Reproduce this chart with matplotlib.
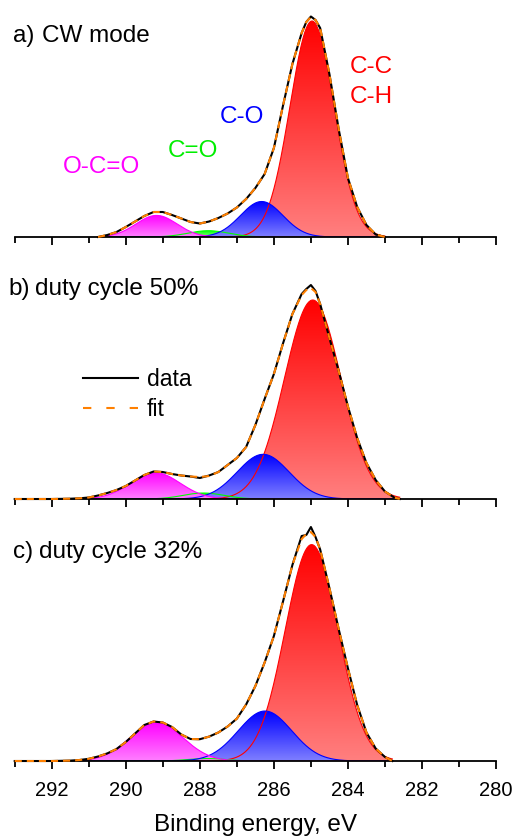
import numpy as np
import matplotlib
matplotlib.use("Agg")
import matplotlib.pyplot as plt
from matplotlib.colors import LinearSegmentedColormap, to_rgb
from matplotlib.lines import Line2D

plt.rcParams['font.family'] = ['Liberation Sans', 'DejaVu Sans']

# C 1s spectra, binding energy (eV) and intensity (a.u.)
energy_a = [290.75, 290.5, 290.25, 290.0, 289.75, 289.5, 289.25, 289.0, 288.75, 288.5,
            288.25, 288.0, 287.75, 287.5, 287.25, 287.0, 286.75, 286.5, 286.25, 286.0,
            285.75, 285.5, 285.25, 285.125, 285.0, 284.875, 284.75, 284.5, 284.25, 284.0,
            283.75, 283.5, 283.25, 283.0]
data_a = [0, 2, 5, 10, 15.5, 21, 25, 25, 22, 18.5,
          15, 13.5, 15.5, 19, 23.5, 29.5, 38, 49, 63, 89,
          132, 173, 204, 215, 220.5, 217, 209, 163, 108, 59,
          30, 12, 2.5, 0]
fit_a = [0, 2, 5, 10, 15.5, 21, 25, 25, 22, 18.5,
         15, 13.5, 15.5, 19, 23.5, 29.5, 38, 49, 63, 89,
         132, 173, 204, 215, 220, 217, 209, 163, 108, 59,
         30, 12, 2.5, 0]

energy_b = [293.0, 292.5, 292.0, 291.5, 291.25, 291.0, 290.75, 290.5, 290.25, 290.0,
            289.75, 289.5, 289.25, 289.0, 288.75, 288.5, 288.25, 288.0, 287.75, 287.5,
            287.25, 287.0, 286.75, 286.5, 286.25, 286.0, 285.75, 285.5, 285.25, 285.125,
            285.0, 284.875, 284.75, 284.5, 284.25, 284.0, 283.75, 283.5, 283.25, 283.0,
            282.75, 282.6]
data_b = [0, 0, 0, 0.3, 0.7, 1.5, 3.5, 6, 9, 13,
          18.5, 24, 27.5, 27, 25, 23.5, 22.5, 21, 23.5, 27,
          34, 41, 52, 74, 100, 125, 156, 185, 205, 210,
          214, 208, 195, 161, 128, 92.5, 61, 36, 19, 7.5,
          1.5, 0]
fit_b = [0, 0, 0, 0.3, 0.7, 1.5, 3.5, 6, 9, 13,
         18.5, 24, 27.5, 27, 25, 23.5, 22.5, 22, 23, 27,
         34, 41, 52, 74, 100, 125, 156, 185, 204, 209,
         211, 207, 195, 161, 128, 92.5, 61, 36, 19, 7.5,
         1.5, 0]

energy_c = [293.0, 292.5, 292.0, 291.5, 291.25, 291.0, 290.75, 290.5, 290.25, 290.0,
            289.75, 289.5, 289.25, 289.0, 288.75, 288.5, 288.25, 288.0, 287.75, 287.5,
            287.25, 287.0, 286.75, 286.5, 286.25, 286.0, 285.75, 285.5, 285.25, 285.125,
            285.0, 284.875, 284.75, 284.5, 284.25, 284.0, 283.75, 283.5, 283.25, 283.0,
            282.8]
data_c = [0, 0, 0, 0.4, 1, 2.2, 4.5, 7.6, 12, 19,
          27.5, 36, 39.5, 38.5, 34, 26.5, 22, 21.8, 24.4, 28.5,
          34.5, 42.4, 56.5, 75, 98.5, 125, 160, 196, 225, 226,
          234, 224, 211.5, 173, 132, 92.7, 56, 28.5, 12.5, 4,
          0]
fit_c = [0, 0, 0, 0.4, 1, 2.2, 4.5, 7.6, 12, 19,
         27.5, 36, 39.5, 38.5, 34, 26.5, 22, 21.8, 24.4, 28.5,
         34.5, 42.4, 56.5, 75, 98.5, 125, 160, 196, 222, 227,
         229, 224, 211.5, 173, 132, 92.7, 56, 28.5, 12.5, 4,
         0]

# fitted components: C-C/C-H, C-O, C=O, O-C=O (position, height, FWHM)
comp_colors = ["#ff0000", "#0000ff", "#00ff00", "#ff00ff"]
center_a = [284.97, 286.33, 287.77, 289.17]
height_a = [216, 35.5, 6.3, 21.6]
fwhm_a = [1.40, 1.35, 1.30, 1.30]
center_b = [284.95, 286.29, 287.90, 289.20]
height_b = [199, 44.7, 6.0, 26.3]
fwhm_b = [1.80, 1.65, 1.30, 1.57]
center_c = [284.98, 286.24, 287.80, 289.17]
height_c = [216.4, 50, 2.5, 38.3]
fwhm_c = [1.68, 1.70, 1.20, 1.69]

panel_letters = ["a)", "b)", "c)"]
panel_titles = ["CW mode", "duty cycle 50%", "duty cycle 32%"]

orange = "#ff8000"


def gauss(x, c, h, w):
    return h * np.exp(-4 * np.log(2) * (x - c) ** 2 / w ** 2)


def draw_peak(ax, x, y, color):
    # vertical gradient from the pure colour at the top to a pale tint at the base
    light = [0.5 + 0.5 * v for v in to_rgb(color)]
    cmap = LinearSegmentedColormap.from_list("grad", [light, color])
    poly = ax.fill_between(x, 0, y, facecolor="none", edgecolor="none")
    grad = np.linspace(0, 1, 256).reshape(-1, 1)
    im = ax.imshow(grad, cmap=cmap, aspect="auto", origin="lower",
                   extent=(x.min(), x.max(), 0, y.max()), interpolation="bilinear")
    im.set_clip_path(poly.get_paths()[0], transform=ax.transData)
    ax.plot(x, y, color=color, lw=0.8)


fig = plt.figure(figsize=(5.13, 8.36), dpi=100)

panels = [
    (energy_a, data_a, fit_a, center_a, height_a, fwhm_a, 0.7165),
    (energy_b, data_b, fit_b, center_b, height_b, fwhm_b, 0.4031),
    (energy_c, data_c, fit_c, center_c, height_c, fwhm_c, 0.0897),
]
letter_x = [293.05, 293.17, 293.04]
title_x = [292.27, 292.45, 292.34]
title_y = [195.3, 204, 202.7]

axes = []
for i, (en, dat, fit, cen, hgt, fw, bottom) in enumerate(panels):
    ax = fig.add_axes([0.0287, bottom, 0.9382, 0.2775])
    axes.append(ax)
    en = np.asarray(en)
    xs = np.linspace(en.max(), en.min(), 500)
    for k in [0, 2, 1, 3]:
        draw_peak(ax, xs, gauss(xs, cen[k], hgt[k], fw[k]), comp_colors[k])

    ax.plot(en, dat, color="black", lw=1.5, zorder=3, clip_on=False)
    ax.plot(en, fit, color=orange, lw=1.5, dashes=(3.4, 2.4), zorder=4, clip_on=False)

    ax.set_xlim(293, 280)
    ax.set_ylim(0, 232)
    for side in ["left", "right", "top"]:
        ax.spines[side].set_visible(False)
    ax.spines["bottom"].set_linewidth(1.3)
    ax.set_yticks([])
    ax.set_xticks(np.arange(280, 294, 2))
    ax.set_xticks(np.arange(281, 294, 2), minor=True)
    ax.tick_params(axis="x", which="major", direction="out", length=5.5, width=1.3,
                   labelsize=14.5, pad=9, labelbottom=(i == 2))
    ax.tick_params(axis="x", which="minor", direction="out", length=4.3, width=1.3)

    ax.text(letter_x[i], title_y[i], panel_letters[i], fontsize=17.5, ha="left", va="baseline")
    ax.text(title_x[i], title_y[i], panel_titles[i], fontsize=17.5, ha="left", va="baseline")

ax_a, ax_b, ax_c = axes

# component labels
ax_a.text(283.95, 163.7, "C-C", color="#ff0000", fontsize=17.5, ha="left", va="baseline")
ax_a.text(283.95, 133.7, "C-H", color="#ff0000", fontsize=17.5, ha="left", va="baseline")
ax_a.text(287.45, 113.7, "C-O", color="#0000ff", fontsize=17.5, ha="left", va="baseline")
ax_a.text(288.88, 80.3, "C=O", color="#00ee00", fontsize=17.5, ha="left", va="baseline")
ax_a.text(291.70, 63.7, "O-C=O", color="#ff00ff", fontsize=17.5, ha="left", va="baseline")

handles = [Line2D([], [], color="black", lw=1.5),
           Line2D([], [], color=orange, lw=1.5, dashes=(4, 7.2))]
ax_b.legend(handles, ["data", "fit"], loc="upper left", bbox_to_anchor=(0.1618, 0.5598),
            bbox_transform=fig.transFigure, frameon=False, fontsize=16.5, borderpad=0,
            borderaxespad=0, handlelength=2.4, handletextpad=0.39, labelspacing=0.3)

ax_c.set_xlabel("Binding energy, eV", fontsize=17.5, va="baseline")
ax_c.xaxis.set_label_coords(0.5, -0.303)

fig.savefig("out.png", dpi=100)
